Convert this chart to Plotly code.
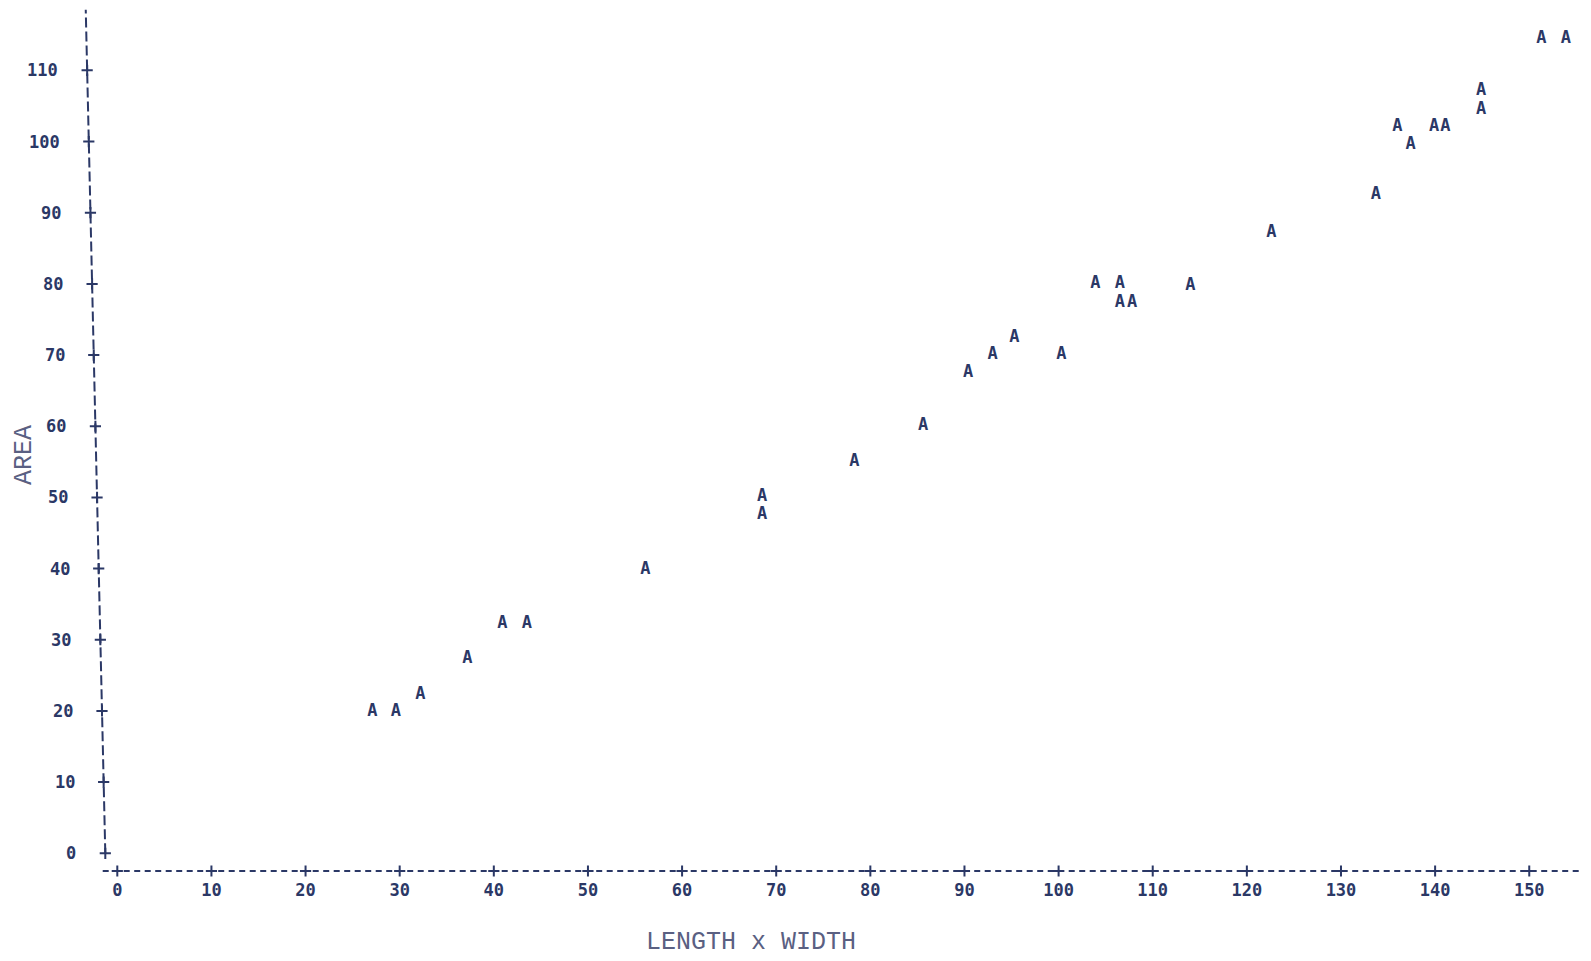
import plotly.graph_objects as go

# ---------------- data ----------------
length_x_width = [27.1, 29.6, 32.2, 37.2, 40.9, 43.5, 56.1, 68.5, 68.5, 78.3,
                  85.6, 90.4, 93.0, 95.3, 100.3, 103.9, 106.5, 106.5, 107.8, 114.0,
                  122.6, 133.7, 136.0, 137.4, 139.9, 141.1, 144.9, 144.9, 151.3, 153.9]
area = [19.9, 19.9, 22.3, 27.3, 32.3, 32.3, 39.9, 50.1, 47.5, 55.0,
        60.0, 67.5, 70.0, 72.5, 70.0, 80.0, 80.0, 77.3, 77.3, 79.8,
        87.2, 92.5, 102.1, 99.5, 102.1, 102.1, 107.1, 104.4, 114.5, 114.5]
point_label = "A"
x_ticks = list(range(0, 151, 10))
y_ticks = list(range(0, 111, 10))
x_title = "LENGTH x WIDTH"
y_title = "AREA"

# ---------------- styling / layout ----------------
# the page body has an 8px margin, so the figure is drawn 8px smaller
W, H = 1583, 953
ML, MR, MT, MB = 72, 0, 0, 83
X_RANGE = [-3.963, 156.56]
Y_RANGE = [-3.47, 118.76]
INK = "#2b3866"
TITLE_INK = "#5a6082"
MONO = "DejaVu Sans Mono"

X_AXIS_Y = -2.49          # height of the printed x axis line
Y_AXIS_TOP = 118.5


def yaxis_x(y):
    # the printed vertical axis leans slightly to the left going up
    return -1.275 - 0.01753 * y


fig = go.Figure()

# printed axis lines (dashed, line-printer style)
fig.add_shape(type="line", xref="x", yref="y",
              x0=-1.55, x1=X_RANGE[1], y0=X_AXIS_Y, y1=X_AXIS_Y,
              line=dict(color=INK, width=2, dash="6px,4.5px"))
fig.add_shape(type="line", xref="x", yref="y",
              x0=yaxis_x(0), y0=0, x1=yaxis_x(Y_AXIS_TOP), y1=Y_AXIS_TOP,
              line=dict(color=INK, width=2, dash="10px,4px"))

# '+' tick marks
fig.add_trace(go.Scatter(
    x=x_ticks, y=[X_AXIS_Y] * len(x_ticks), mode="markers",
    marker=dict(symbol="cross-thin", size=8, line=dict(color=INK, width=2)),
    hoverinfo="skip", showlegend=False))
fig.add_trace(go.Scatter(
    x=[yaxis_x(v) for v in y_ticks], y=y_ticks, mode="markers",
    marker=dict(symbol="cross-thin", size=8, line=dict(color=INK, width=2)),
    hoverinfo="skip", showlegend=False))

# data points printed as the letter A
fig.add_trace(go.Scatter(
    x=length_x_width, y=area, mode="text",
    text=[point_label] * len(area), textposition="middle center",
    textfont=dict(family=MONO, size=17, color=INK, weight="bold"),
    showlegend=False, cliponaxis=False))

# y tick labels follow the leaning axis
for v in y_ticks:
    fig.add_annotation(x=yaxis_x(v), y=v, xref="x", yref="y",
                       text=str(v), showarrow=False, xanchor="right",
                       yanchor="middle", xshift=-27,
                       font=dict(family=MONO, size=17, color=INK, weight="bold"))

# axis titles
fig.add_annotation(x=0.4444, y=-0.0744, xref="paper", yref="paper",
                   text=x_title, showarrow=False, xanchor="center", yanchor="middle",
                   font=dict(family="Liberation Mono", size=25, color=TITLE_INK))
fig.add_annotation(x=-0.0371, y=0.4862, xref="paper", yref="paper",
                   text=y_title, showarrow=False, textangle=-90,
                   xanchor="center", yanchor="middle",
                   font=dict(family="Liberation Mono", size=25, color=TITLE_INK))

fig.update_layout(
    width=W, height=H,
    margin=dict(l=ML, r=MR, t=MT, b=MB),
    paper_bgcolor="white", plot_bgcolor="white",
    xaxis=dict(range=X_RANGE, tickvals=x_ticks, ticktext=[str(v) for v in x_ticks],
               showgrid=False, zeroline=False, showline=False, ticks="",
               tickfont=dict(family=MONO, size=17, color=INK, weight="bold")),
    yaxis=dict(range=Y_RANGE, showticklabels=False, showgrid=False,
               zeroline=False, showline=False, ticks=""),
    showlegend=False,
)

fig.write_html("out.html", config={"displayModeBar": False})
